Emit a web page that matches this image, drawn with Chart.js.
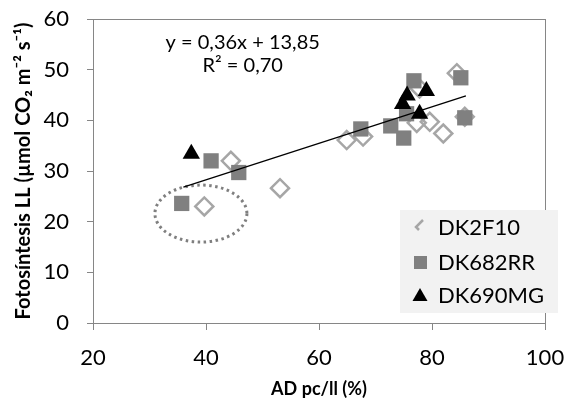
<!DOCTYPE html>
<html>
<head>
<meta charset="utf-8">
<script src="https://cdn.jsdelivr.net/npm/chart.js@4.4.0/dist/chart.umd.min.js"></script>
<style>
  html, body { margin: 0; padding: 0; background: #fff; }
</style>
</head>
<body>
<canvas id="chart" width="564" height="402"></canvas>
<script>
// values [x, y]
const dk2f10 = [[39.7, 23.0], [44.4, 32.0], [53.1, 26.6], [64.9, 36.1], [67.8, 36.8], [77.3, 39.5],
                [79.6, 39.7], [82.0, 37.4], [84.4, 49.3], [85.8, 40.7], [77.8, 46.3]];
const dk682rr = [[35.7, 23.6], [40.9, 32.0], [45.8, 29.7], [67.4, 38.3], [72.7, 38.9], [75.0, 36.5],
                 [75.5, 41.3], [76.8, 47.8], [85.1, 48.4], [85.8, 40.5]];
const dk690mg = [[37.4, 33.4], [75.6, 44.9], [79.0, 45.8], [74.8, 43.2], [77.8, 41.3]];
const seriesNames = ["DK2F10", "DK682RR", "DK690MG"];

// trendline as printed on the chart
const slope = 0.36;
const intercept = 13.85;
const trendRange = [36, 86];

const xTicks = [20, 40, 60, 80, 100];
const yTicks = [0, 10, 20, 30, 40, 50, 60];

// dotted ellipse around the two low points (centre in data units)
const circled = { x: 39.1, y: 21.6 };

const toPts = (arr) => arr.map(p => ({ x: p[0], y: p[1] }));
const FONT = "Lato, 'Liberation Sans', sans-serif";
const AXIS_GRAY = "#868686";

// keep the plot box where the layout padding puts it
const noLabelPadding = (s) => {
    s.paddingTop = 0;
    s.paddingBottom = 0;
    s.paddingLeft = 0;
    s.paddingRight = 0;
};

const extras = {
    id: "extras",
    beforeDatasetsDraw(chart) {
        const { ctx, chartArea: a, scales } = chart;
        ctx.save();
        // box round plot area
        ctx.strokeStyle = AXIS_GRAY;
        ctx.lineWidth = 1;
        ctx.strokeRect(a.left + 0.5, a.top + 0.5, a.right - a.left, a.bottom - a.top);

        // dotted ellipse
        const cx = scales.x.getPixelForValue(circled.x);
        const cy = scales.y.getPixelForValue(circled.y);
        ctx.strokeStyle = "#7f7f7f";
        ctx.lineWidth = 3;
        ctx.setLineDash([2.5, 3.5]);
        ctx.beginPath();
        ctx.ellipse(cx, cy, 46, 28.5, 0, 0, Math.PI * 2);
        ctx.stroke();
        ctx.setLineDash([]);

        // equation
        ctx.fillStyle = "#000";
        ctx.font = "20px " + FONT;
        ctx.textAlign = "center";
        ctx.textBaseline = "middle";
        const ex = scales.x.getPixelForValue(46.5);
        ctx.fillText("y = 0,36x + 13,85", ex, scales.y.getPixelForValue(55.3));
        ctx.fillText("R² = 0,70", ex, scales.y.getPixelForValue(50.8));
        ctx.restore();
    },
    afterDraw(chart) {
        const { ctx, chartArea: a } = chart;
        const left = a.right - 145, top = a.bottom - 113;
        ctx.save();
        ctx.fillStyle = "#f2f2f2";
        ctx.fillRect(left, top, 158, 103);
        const rows = [top + 17, top + 52, top + 85];
        const mx = left + 20;

        // diamond key, drawn cut off like the original legend
        ctx.strokeStyle = "#a6a6a6";
        ctx.lineWidth = 2.5;
        ctx.beginPath();
        ctx.moveTo(mx + 3, rows[0] - 7);
        ctx.lineTo(mx - 4, rows[0]);
        ctx.lineTo(mx - 1, rows[0] + 3);
        ctx.stroke();

        ctx.fillStyle = "#808080";
        ctx.fillRect(mx - 6, rows[1] - 6, 13, 13);

        ctx.fillStyle = "#000";
        ctx.beginPath();
        ctx.moveTo(mx, rows[2] - 7);
        ctx.lineTo(mx + 7.5, rows[2] + 6);
        ctx.lineTo(mx - 7.5, rows[2] + 6);
        ctx.closePath();
        ctx.fill();

        ctx.font = "22px " + FONT;
        ctx.textAlign = "left";
        ctx.textBaseline = "middle";
        seriesNames.forEach((name, i) => ctx.fillText(name, left + 38, rows[i] + 1));
        ctx.restore();
    }
};

new Chart(document.getElementById("chart"), {
    type: "scatter",
    data: {
        datasets: [
            {
                label: "trend",
                data: trendRange.map(x => ({ x: x, y: slope * x + intercept })),
                showLine: true,
                borderColor: "#000",
                borderWidth: 1.3,
                pointRadius: 0,
                order: 0
            },
            {
                label: seriesNames[0],
                data: toPts(dk2f10),
                pointStyle: "rectRot",
                pointRadius: 9,
                pointBorderWidth: 2.5,
                pointBorderColor: "#a6a6a6",
                pointBackgroundColor: "rgba(255,255,255,0)",
                order: 3
            },
            {
                label: seriesNames[1],
                data: toPts(dk682rr),
                pointStyle: "rect",
                pointRadius: 10.8,
                pointBorderWidth: 0,
                pointBackgroundColor: "#808080",
                order: 2
            },
            {
                label: seriesNames[2],
                data: toPts(dk690mg),
                pointStyle: "triangle",
                pointRadius: 10,
                pointBorderWidth: 0,
                pointBackgroundColor: "#000",
                order: 1
            }
        ]
    },
    options: {
        responsive: false,
        animation: false,
        layout: { padding: { top: 19, right: 19, left: 0, bottom: 0 } },
        plugins: {
            legend: { display: false },
            tooltip: { enabled: false }
        },
        scales: {
            x: {
                type: "linear",
                min: xTicks[0],
                max: xTicks[xTicks.length - 1],
                afterBuildTicks: (s) => { s.ticks = xTicks.map(v => ({ value: v })); },
                afterFit: (s) => { s.height = 79; noLabelPadding(s); },
                ticks: { font: { family: FONT, size: 22 }, color: "#000", padding: 15 },
                grid: { drawOnChartArea: false, tickLength: 7, color: AXIS_GRAY },
                border: { color: AXIS_GRAY },
                title: {
                    display: true,
                    text: "AD pc/ll (%)",
                    font: { family: FONT, size: 18, weight: "bold" },
                    color: "#000",
                    padding: { top: 4, bottom: 2 }
                }
            },
            y: {
                min: yTicks[0],
                max: yTicks[yTicks.length - 1],
                afterBuildTicks: (s) => { s.ticks = yTicks.map(v => ({ value: v })); },
                afterFit: (s) => { s.width = 93; noLabelPadding(s); },
                ticks: { font: { family: FONT, size: 22 }, color: "#000", padding: 18 },
                grid: { drawOnChartArea: false, tickLength: 6, color: AXIS_GRAY },
                border: { color: AXIS_GRAY },
                title: {
                    display: true,
                    text: "Fotosíntesis LL (µmol CO₂ m⁻² s⁻¹)",
                    font: { family: FONT, size: 20, weight: "bold" },
                    color: "#000",
                    padding: { top: 12, bottom: 4 }
                }
            }
        }
    },
    plugins: [extras]
});
</script>
</body>
</html>
